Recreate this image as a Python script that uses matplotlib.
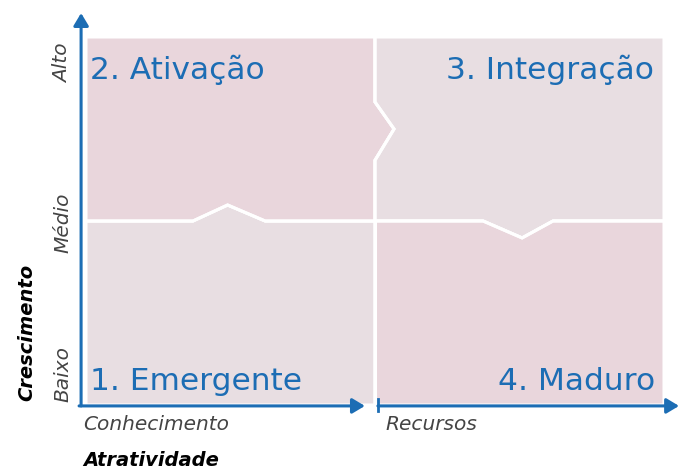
import matplotlib.pyplot as plt
from matplotlib.patches import Polygon

# grid: x 0..2 (Conhecimento | Recursos), y 0..2 (Baixo .. Alto)
niveis = ['Baixo', 'Médio', 'Alto']
niveis_y = [0.17, 0.99, 1.86]
eixo_x = ['Conhecimento', 'Recursos']
eixo_x_pos = [-0.01, 1.035]
quadrantes = ['1. Emergente', '2. Ativação', '3. Integração', '4. Maduro']

# jigsaw tabs (start, peak, end, offset)
tab_esq = (0.37, 0.49, 0.62, 0.087)     # bottom-left piece pokes up
tab_dir = (1.374, 1.509, 1.616, -0.092)  # top-right piece pokes down
tab_vert = (1.33, 1.5, 1.647, 0.066)     # top-left piece pokes right

azul = '#1c6db4'
rosa = '#e9d6dc'
cinza = '#e8dee2'

plt.rcParams['font.family'] = ['DejaVu Sans']

fig = plt.figure(figsize=(6.79, 4.70), dpi=100)
ax = fig.add_axes([86 / 679, 65 / 470, 578 / 679, 368 / 470])
ax.set_xlim(0, 2)
ax.set_ylim(0, 2)
ax.axis('off')

a0, ap, a1, ah = tab_esq
b0, bp, b1, bh = tab_dir
v0, vp, v1, vw = tab_vert

meio_esq = [(0, 1), (a0, 1), (ap, 1 + ah), (a1, 1), (1, 1)]
meio_dir = [(1, 1), (b0, 1), (bp, 1 + bh), (b1, 1), (2, 1)]
meio_vert = [(1, 1), (1, v0), (1 + vw, vp), (1, v1), (1, 2)]

# pieces
bl = [(0, 0), (1, 0)] + meio_esq[::-1]
tl = meio_esq[:-1] + meio_vert + [(0, 2)]
tr = meio_vert[::-1] + meio_dir[1:] + [(2, 2)]
br = [(1, 0), (2, 0)] + meio_dir[::-1]

for pts, cor in [(bl, cinza), (tl, rosa), (tr, cinza), (br, rosa)]:
    ax.add_patch(Polygon(pts, closed=True, facecolor=cor, edgecolor='white', lw=2.2))

# dividers
for linha in (meio_esq, meio_dir, meio_vert, [(1, 0), (1, 1)]):
    xs, ys = zip(*linha)
    ax.plot(xs, ys, color='white', lw=2.2, solid_joinstyle='miter')

# axes arrows
seta = dict(arrowstyle='-|>,head_length=0.75,head_width=0.45', color=azul, lw=2.2,
            shrinkA=0, shrinkB=0)
ax.annotate('', xy=(-0.017, 2.13), xytext=(-0.017, -0.005), arrowprops=seta,
            annotation_clip=False)
ax.annotate('', xy=(0.965, -0.005), xytext=(-0.024, -0.005), arrowprops=seta,
            annotation_clip=False)
ax.annotate('', xy=(2.052, -0.005), xytext=(1.01, -0.005), arrowprops=seta,
            annotation_clip=False)
ax.plot([1.01, 1.01], [-0.035, 0.03], color=azul, lw=2, clip_on=False)

# quadrant titles
tit = dict(color=azul, fontsize=22.5, va='baseline')
ax.text(0.015, 1.772, quadrantes[1], ha='left', **tit)
ax.text(1.965, 1.772, quadrantes[2], ha='right', **tit)
ax.text(0.015, 0.082, quadrantes[0], ha='left', **tit)
ax.text(1.97, 0.082, quadrantes[3], ha='right', **tit)

# level labels
cinza_txt = '#444444'
for nome, y in zip(niveis, niveis_y):
    ax.text(-0.08, y, nome, rotation=90, ha='center', va='center',
            fontsize=14.5, style='italic', color=cinza_txt)
for nome, x in zip(eixo_x, eixo_x_pos):
    ax.text(x, -0.055, nome, ha='left', va='top',
            fontsize=14.5, style='italic', color=cinza_txt)

ax.text(-0.204, 0.397, 'Crescimento', rotation=90, ha='center', va='center',
        fontsize=14, style='italic', fontweight='bold', color='black')
ax.text(-0.01, -0.30, 'Atratividade', ha='left', va='center',
        fontsize=14, style='italic', fontweight='bold', color='black')

fig.savefig('out.png', dpi=100)
